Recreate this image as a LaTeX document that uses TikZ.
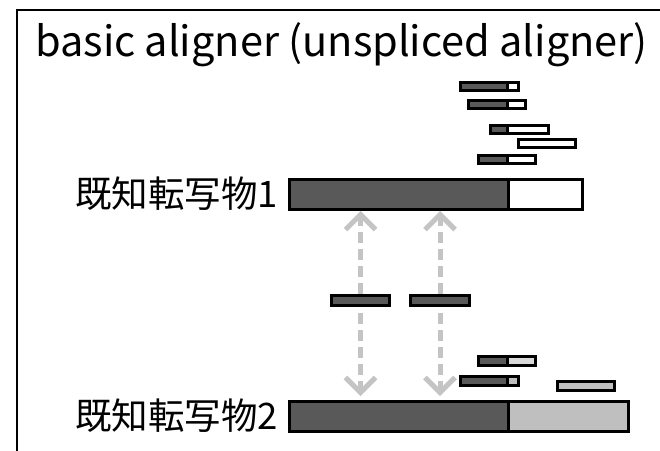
\documentclass[tikz,border=0pt]{standalone}
\usepackage{fontspec}
\setmainfont{Noto Sans CJK JP}
\usetikzlibrary{arrows.meta}

\definecolor{exondark}{HTML}{595959}
\definecolor{exonlight}{HTML}{BFBFBF}
\definecolor{exonpale}{HTML}{D9D9D9}
\definecolor{hitgray}{HTML}{C4C4C4}

\tikzset{
  seg/.style={draw=black, line width=3pt, inner sep=0pt, anchor=north west},
  darkseg/.style={seg, fill=exondark},
  whiteseg/.style={seg, fill=white},
  lightseg/.style={seg, fill=exonlight},
  paleseg/.style={seg, fill=exonpale},
  hit/.style={draw=hitgray, line width=5pt, dash pattern=on 11pt off 6pt,
    -{Straight Barb[length=15pt,width=30pt]}},
  bigtext/.style={font=\fontsize{41.5}{48}\selectfont, inner sep=0pt},
  labeltext/.style={font=\fontsize{36.5}{42}\selectfont, inner sep=0pt, anchor=base east},
}

% one block: \seg[style]{name}{left}{top}{right}{bottom}
\newcommand{\seg}[6][darkseg]{%
  \node[#1, minimum width=#5pt-#3pt, minimum height=#6pt-#4pt] (#2) at (#3,#4) {};}

\begin{document}
\begin{tikzpicture}[x=1pt,y=-1pt]
\useasboundingbox (0,0) rectangle (660,450);
\clip (0,0) rectangle (660,450);
\draw[line width=2.8pt] (17,460) |- (670,10);

\node[bigtext, anchor=base west] (title) at (35,56) {basic aligner (unspliced aligner)};

% the two known transcripts
\seg{tOneA}{288}{178}{507}{208}
\seg[whiteseg]{tOneB}{507}{178}{581}{208}
\seg{tTwoA}{288}{400}{507}{430}
\seg[lightseg]{tTwoB}{507}{400}{627}{430}
\node[labeltext] (nameOne) at (278,207) {既知転写物1};
\node[labeltext] (nameTwo) at (278,429) {既知転写物2};

% reads over transcript 1
\seg{rOneA}{459}{81}{506}{89}
\seg[whiteseg]{rOneB}{506}{81}{517}{89}
\seg{rTwoA}{467}{99}{506}{107}
\seg[whiteseg]{rTwoB}{506}{99}{524}{107}
\seg{rThreeA}{489}{124}{506}{132}
\seg[whiteseg]{rThreeB}{506}{124}{547}{132}
\seg[whiteseg]{rFour}{517}{138}{574}{146}
\seg{rFiveA}{477}{154}{506}{162}
\seg[whiteseg]{rFiveB}{506}{154}{534}{162}

% reads over transcript 2
\seg{sOneA}{477}{355}{506}{364}
\seg[paleseg]{sOneB}{506}{355}{534}{364}
\seg{sTwoA}{459}{375}{506}{384}
\seg[lightseg]{sTwoB}{506}{375}{517}{384}
\seg[lightseg]{sThree}{556}{380}{613}{389}

% shared reads and where they map
\seg{mA}{330}{294}{388}{304}
\seg{mB}{409}{294}{468}{304}
\foreach \r in {mA,mB} {
  \draw[hit] (\r.north) -- (\r.north |- tOneA.south);
  \draw[hit, shorten <=6pt, shorten >=4pt] (\r.south) -- (\r.south |- tTwoA.north);
}
\end{tikzpicture}
\end{document}
